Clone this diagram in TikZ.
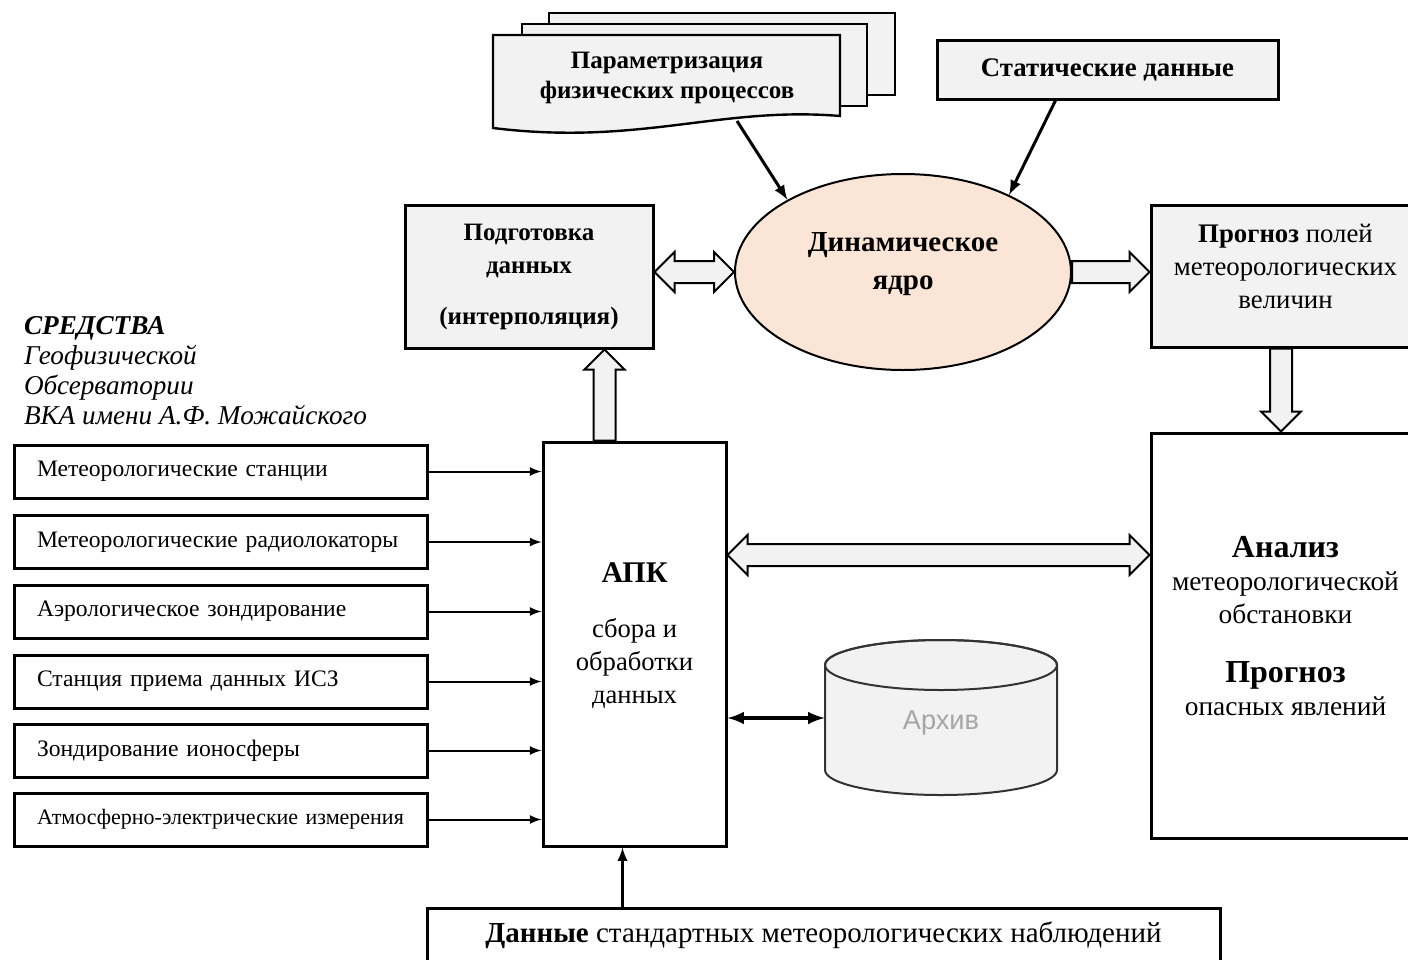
\documentclass[tikz,border=0pt]{standalone}
\usepackage{fontspec}
\setmainfont{Liberation Serif}
\newfontfamily\archfont{Liberation Sans}
\usetikzlibrary{calc,shapes.geometric,shapes.arrows}
\definecolor{boxgray}{HTML}{F2F2F2}
\definecolor{corefill}{HTML}{FBE5D6}
\definecolor{archtext}{HTML}{A6A6A6}
% wide hollow arrows between two points
\newcommand{\blockarrow}[2]{\path let \p1=(#1), \p2=(#2), \n1={veclen(\x2-\x1,\y2-\y1)}, \n2={atan2(\y2-\y1,\x2-\x1)} in node[blk, anchor=tail, minimum height=\n1, rotate=\n2] at (\p1) {};}
\newcommand{\blockarrowdbl}[2]{\path let \p1=(#1), \p2=(#2), \n1={veclen(\x2-\x1,\y2-\y1)}, \n2={atan2(\y2-\y1,\x2-\x1)} in node[blkdbl, minimum height=\n1, rotate=\n2] at ($(\p1)!0.5!(\p2)$) {};}

\begin{document}
\begin{tikzpicture}[x=0.5pt,y=-0.5pt]
\tikzset{box/.style = {shape=rectangle,draw,line width=1.5pt,fill=boxgray,align=center,inner sep=0pt}}
\tikzset{src/.style = {shape=rectangle,draw,line width=1.5pt,minimum width=206.5pt,minimum height=26.5pt,text width=183.5pt,align=left,inner xsep=11.5pt,inner ysep=0pt,font=\fontsize{11.8}{14}\selectfont}}
\tikzset{edge/.style = {->,> = latex,line width=1pt}}
\tikzset{blk/.style = {single arrow,draw,line width=1pt,fill=boxgray,minimum width=19pt,single arrow head extend=4.5pt,inner xsep=0pt,inner ysep=5pt,outer sep=0pt}}
\tikzset{blkdbl/.style = {double arrow,draw,line width=1pt,fill=boxgray,minimum width=19pt,double arrow head extend=4.5pt,inner xsep=0pt,inner ysep=5pt,outer sep=0pt}}
\useasboundingbox (0,0) rectangle (1408,959);
% stack of sheets
\filldraw[fill=boxgray,line width=1.2pt] (549,13) rectangle (895,95);
\filldraw[fill=boxgray,line width=1.2pt] (522,24) rectangle (867,106);
\filldraw[fill=boxgray,line width=1.2pt] (493,35) -- (840,35) -- (840,116) .. controls (720,106) and (640,146) .. (493,128) -- cycle;
\node[font=\fontsize{12.5}{15}\selectfont\bfseries,align=center] (params) at (667,78) {Параметризация\\физических процессов};
\coordinate (pout) at (737,121);
\node[box,minimum width=170.5pt,minimum height=29.5pt,font=\fontsize{13.4}{15}\selectfont\bfseries] (static) at (1107.5,69.5) {Статические данные};
\node[shape=ellipse,draw,line width=1pt,fill=corefill,minimum width=168pt,minimum height=98pt,inner sep=0pt] (core) at (903,272) {};
\node[align=center,font=\fontsize{14.5}{19}\selectfont\bfseries] (coretxt) at (903,264) {Динамическое\\ядро};
\node[box,minimum width=124pt,minimum height=71.5pt,font=\fontsize{12.5}{16.5}\selectfont\bfseries] (prep) at (529,276.5) {Подготовка\\данных\\[9pt](интерполяция)};
\node[box,minimum width=134.5pt,minimum height=71pt] (fcst) at (1285.5,276) {};
\node[align=center,font=\fontsize{13.4}{16.5}\selectfont] (fcsttxt) at (1285.5,266) {\textbf{Прогноз} полей\\метеорологических\\величин};
\node[box,fill=white,minimum width=134.5pt,minimum height=202.5pt] (anl) at (1285.5,635.5) {};
\node[align=center,font=\fontsize{13.7}{16.5}\selectfont] (anltxt) at (1285.5,626) {{\fontsize{16}{16.5}\selectfont\bfseries Анализ}\\метеорологической\\обстановки\\[13pt]{\fontsize{16}{16.5}\selectfont\bfseries Прогноз}\\опасных явлений};
\node[box,fill=white,minimum width=91.5pt,minimum height=202pt] (apk) at (634.5,644) {};
\node[align=center,font=\fontsize{13.3}{16.5}\selectfont] (apktxt) at (634.5,636) {{\fontsize{15}{16.5}\selectfont\bfseries АПК}\\[11pt]сбора и\\обработки\\данных};
% archive
\filldraw[fill=boxgray,draw=black!80,line width=1pt] (825,665) -- (825,770) arc[start angle=180,end angle=0,x radius=116,y radius=25] -- (1057,665) arc[start angle=0,end angle=-180,x radius=116,y radius=25] -- cycle;
\draw[draw=black!80,line width=1pt] (941,665) ellipse [x radius=116,y radius=25];
\node[minimum width=116pt,minimum height=77.5pt,inner sep=0pt,label={[text=archtext,font=\archfont\fontsize{13.6}{15}\selectfont,yshift=-2.5pt]center:Архив}] (arch) at (941,718) {};
% observatory means
\node[anchor=west,align=left,font=\fontsize{13.6}{15}\selectfont\itshape] (hdr) at (17,371) {\textbf{СРЕДСТВА}\\Геофизической\\Обсерватории\\ВКА имени А.Ф. Можайского};
\node[src] (s1) at (220.5,471.5) {Метеорологические станции};
\node[src] (s2) at (220.5,542) {Метеорологические радиолокаторы};
\node[src] (s3) at (220.5,611.5) {Аэрологическое зондирование};
\node[src] (s4) at (220.5,681.5) {Станция приема данных ИСЗ};
\node[src] (s5) at (220.5,750.5) {Зондирование ионосферы};
\node[src,font=\fontsize{11}{13}\selectfont] (s6) at (220.5,819.5) {Атмосферно-электрические измерения};
\node[box,fill=white,minimum width=396.5pt,minimum height=27pt,font=\fontsize{14.5}{15}\selectfont] (obs) at (823.5,935) {\textbf{Данные} стандартных метеорологических наблюдений};
% connectors
\draw[edge,line width=1.5pt] (pout) -- (core.148);
\draw[edge,line width=1.5pt] ($(static.south)+(-52,0)$) -- (core.36);
\foreach \i in {1,...,6}
  \draw[edge] (s\i.east) -- (s\i.east -| apk.west);
\coordinate (arrx) at ($(apk.south)+(-12,0)$);
\draw[edge,line width=1.3pt] (obs.north -| arrx) -- (arrx);
\draw[edge,<->,line width=1.8pt] (apk.east |- arch.west) -- (arch.west);
\coordinate (up1) at ($(apk.north)+(-30,0)$);
\coordinate (mid1) at ($(apk.east)+(0,-89)$);
\blockarrowdbl{core.west -| prep.east}{core.west}
\blockarrow{core.east}{core.east -| fcst.west}
\blockarrow{fcst.south -| 1281,0}{anl.north -| 1281,0}
\blockarrow{up1}{up1 |- prep.south}
\blockarrowdbl{mid1}{mid1 -| anl.west}
\end{tikzpicture}
\end{document}
